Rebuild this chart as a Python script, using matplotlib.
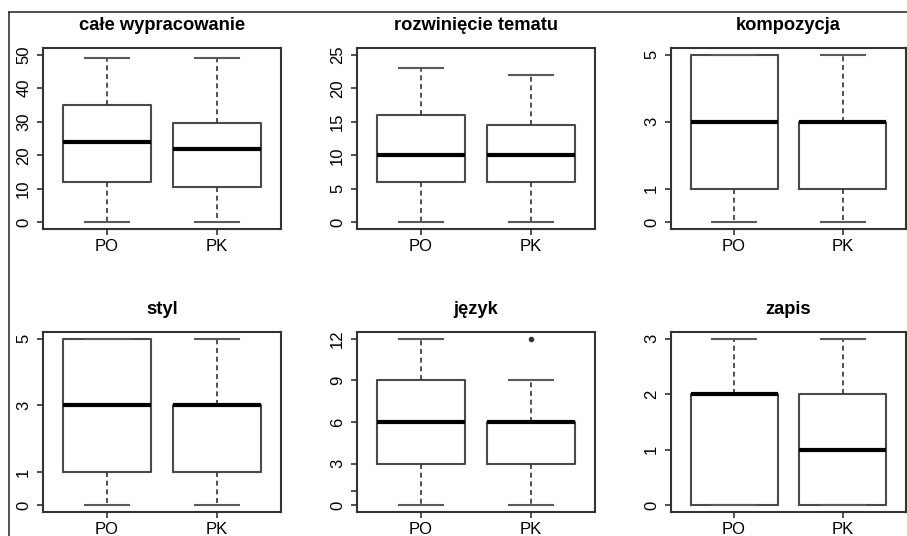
import matplotlib
matplotlib.use("Agg")
import matplotlib.pyplot as plt
from matplotlib.lines import Line2D

# ---------------- data ----------------
titles = ["całe wypracowanie", "rozwinięcie tematu", "kompozycja",
          "styl", "język", "zapis"]
groups = ["PO", "PK"]

po_min = [0, 0, 0, 0, 0, 0]
po_q1 = [12, 6, 1, 1, 3, 0]
po_med = [24, 10, 3, 3, 6, 2]
po_q3 = [35, 16, 5, 5, 9, 2]
po_max = [49, 23, 5, 5, 12, 3]

pk_min = [0, 0, 0, 0, 0, 0]
pk_q1 = [10.5, 6, 1, 1, 3, 0]
pk_med = [22, 10, 3, 3, 6, 1]
pk_q3 = [29.5, 14.5, 3, 3, 6, 2]
pk_max = [49, 22, 5, 5, 9, 3]
pk_outliers = [[], [], [], [], [12], []]

y_top = [50, 25, 5, 5, 12, 3]
y_ticks = [[0, 10, 20, 30, 40, 50], [0, 5, 10, 15, 20, 25], [0, 1, 3, 5],
           [0, 1, 3, 5], [0, 1, 3, 6, 9, 12], [0, 1, 2, 3]]
y_ticklabels = [["0", "10", "20", "30", "40", "50"],
                ["0", "5", "10", "15", "20", "25"],
                ["0", "1", "3", "5"], ["0", "1", "3", "5"],
                ["0", "", "3", "6", "9", "12"], ["0", "1", "2", "3"]]

plt.rcParams["font.family"] = ["Liberation Sans", "DejaVu Sans"]

W, H = 907, 536
fig = plt.figure(figsize=(W / 100, H / 100), dpi=100)

# panel positions in pixels (left, right, top, bottom)
cols = [(43, 281), (357, 595), (671, 906)]
rows = [(48, 229), (332, 512)]

frame_col = "#333333"
box_col = "#4a4a4a"

for i in range(6):
    r, c = divmod(i, 3)
    l, rr = cols[c]
    t, b = rows[r]
    ax = fig.add_axes([l / W, 1 - b / H, (rr - l) / W, (b - t) / H])
    stats = [
        dict(whislo=po_min[i], q1=po_q1[i], med=po_med[i], q3=po_q3[i],
             whishi=po_max[i], fliers=[], label=groups[0]),
        dict(whislo=pk_min[i], q1=pk_q1[i], med=pk_med[i], q3=pk_q3[i],
             whishi=pk_max[i], fliers=pk_outliers[i], label=groups[1]),
    ]
    ax.bxp(stats, positions=[1, 2], widths=0.8, capwidths=0.4,
           boxprops=dict(color=box_col, linewidth=1.5),
           whiskerprops=dict(color="#333333", linewidth=1.2, linestyle=(0, (3, 2.2))),
           capprops=dict(color="#5a5a5a", linewidth=1.5),
           medianprops=dict(color="black", linewidth=3.0, solid_capstyle="butt"),
           flierprops=dict(marker="o", markersize=3.0, markerfacecolor="#333333",
                           markeredgecolor="#333333"))
    top = y_top[i]
    ax.set_ylim(-0.04 * top, top * 1.04)
    ax.set_xlim(0.42, 2.58)
    ax.set_yticks(y_ticks[i])
    ax.set_yticklabels(y_ticklabels[i], rotation=90, va="center")
    ax.set_xticks([1, 2])
    ax.set_xticklabels(groups)
    ax.tick_params(axis="both", length=4.5, width=1.2, color=frame_col,
                   labelsize=12, labelcolor="black")
    ax.tick_params(axis="x", pad=2.5)
    ax.tick_params(axis="y", pad=4.0)
    for s in ax.spines.values():
        s.set_color(frame_col)
        s.set_linewidth(1.5)
    ax.text(0.5, 1 + 17.5 / (b - t), titles[i], transform=ax.transAxes,
            ha="center", va="baseline", fontsize=13.2, fontweight="bold")

# outer frame lines (left and top)
fig.add_artist(Line2D([9 / W, 9 / W], [0, 1 - 12 / H], transform=fig.transFigure,
                      color="#333333", linewidth=1.2))
fig.add_artist(Line2D([9 / W, 1], [1 - 12 / H, 1 - 12 / H], transform=fig.transFigure,
                      color="#333333", linewidth=1.2))

fig.savefig("out.png", dpi=100)
